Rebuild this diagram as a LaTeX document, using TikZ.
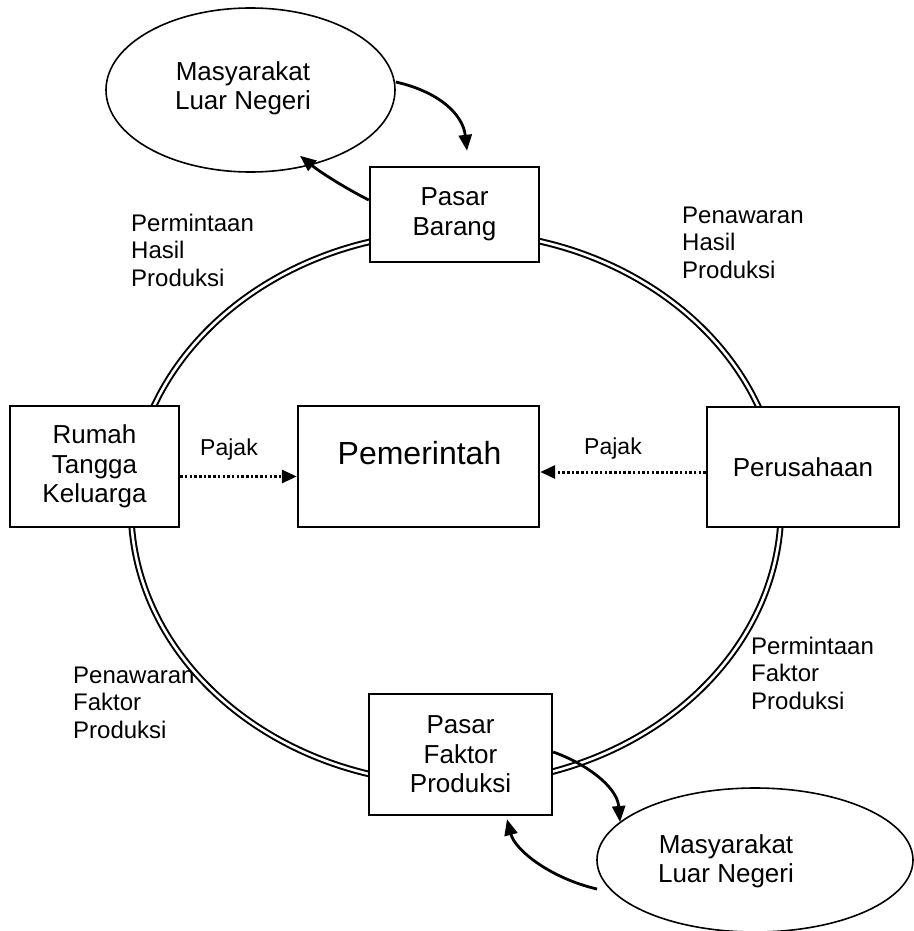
\documentclass[tikz,border=0pt]{standalone}
\usepackage{fontspec}
\setmainfont{Liberation Sans}
\usetikzlibrary{shapes.geometric,arrows.meta}
\tikzset{
  boxnode/.style={draw, fill=white, line width=2.4pt, rectangle, inner sep=0pt, align=center,
    font=\fontsize{26}{29.5}\selectfont},
  ellnode/.style={draw, ellipse, line width=1.6pt, inner sep=0pt},
  elltext/.style={align=center, inner sep=0pt, font=\fontsize{26}{29}\selectfont},
  lbl/.style={align=left, inner sep=0pt, anchor=base west, font=\fontsize{24}{27.5}\selectfont},
  pajaklbl/.style={inner sep=0pt, anchor=base, font=\fontsize{23}{27}\selectfont},
  flow/.style={-{Triangle[length=16pt,width=13pt]}, line width=2.8pt},
  taxflow/.style={-{Triangle[length=15pt,width=13pt]}, line width=3pt, dash pattern=on 2.5pt off 2.2pt},
  ring/.style={double, double distance=2.6pt, line width=2pt}
}
\begin{document}
\begin{tikzpicture}[x=1pt,y=-1pt]
\useasboundingbox (0,0) rectangle (913,931);
% labels (base = baseline of last line)
\node[lbl] (l1) at (131,286) {Permintaan\\Hasil\\Produksi};
\node[lbl] (l2) at (682,278) {Penawaran\\Hasil\\Produksi};
\node[lbl] (l3) at (751,709) {Permintaan\\Faktor\\Produksi};
\node[lbl] (l4) at (73,738) {Penawaran\\Faktor\\Produksi};
% ring
\draw[ring] (456,508) ellipse [x radius=325pt, y radius=276pt];
% boxes
\node[boxnode, minimum width=169pt, minimum height=95pt] (pb) at (454.5,214.5) {Pasar\\Barang};
\node[boxnode, minimum width=169pt, minimum height=121pt] (rt) at (94.5,466.5) {Rumah\\Tangga\\Keluarga};
\node[boxnode, minimum width=241pt, minimum height=121pt] (pem) at (418.5,466.5) {};
\node[inner sep=0pt, anchor=base, font=\fontsize{32}{36}\selectfont] (pemtext) at (419.5,464) {Pemerintah};
\node[boxnode, minimum width=192pt, minimum height=120pt] (pr) at (803,467) {Perusahaan};
\node[boxnode, minimum width=183pt, minimum height=121pt] (pf) at (460.5,754.5) {Pasar\\Faktor\\Produksi};
% ellipses
\node[ellnode, minimum width=289pt, minimum height=164pt] (eu) at (250.5,90) {};
\node[elltext] (eut) at (243,88) {Masyarakat\\Luar Negeri};
\node[ellnode, minimum width=316pt, minimum height=144pt] (el) at (755,860) {};
\node[elltext] (elt) at (726,861) {Masyarakat\\Luar Negeri};
% pajak
\node[pajaklbl] (pj1) at (229,455) {Pajak};
\node[pajaklbl] (pj2) at (613,454) {Pajak};
\draw[taxflow] ([yshift=-10pt]rt.east) -- ([yshift=-10pt]rt.east -| pem.west);
\draw[taxflow] ([yshift=-5pt]pr.west) -- ([yshift=-5pt]pr.west -| pem.east);
% foreign trade arrows
\draw[flow] ([yshift=8pt]eu.east) .. controls (440,92) and (463,115) .. ([xshift=12.5pt,yshift=15pt]pb.north);
\draw[flow] ([yshift=14.5pt]pb.west) .. controls (345,188) and (320,172) .. ([xshift=49.5pt,yshift=17pt]eu.south);
\draw[flow] ([yshift=2.5pt]pf.east) .. controls (582,762) and (617,785) .. ([xshift=-135pt,yshift=38pt]el.center);
\draw[flow] ([xshift=-158pt,yshift=-29pt]el.center) .. controls (550,878) and (515,850) .. ([xshift=46.5pt,yshift=-3pt]pf.south);
\end{tikzpicture}
\end{document}
